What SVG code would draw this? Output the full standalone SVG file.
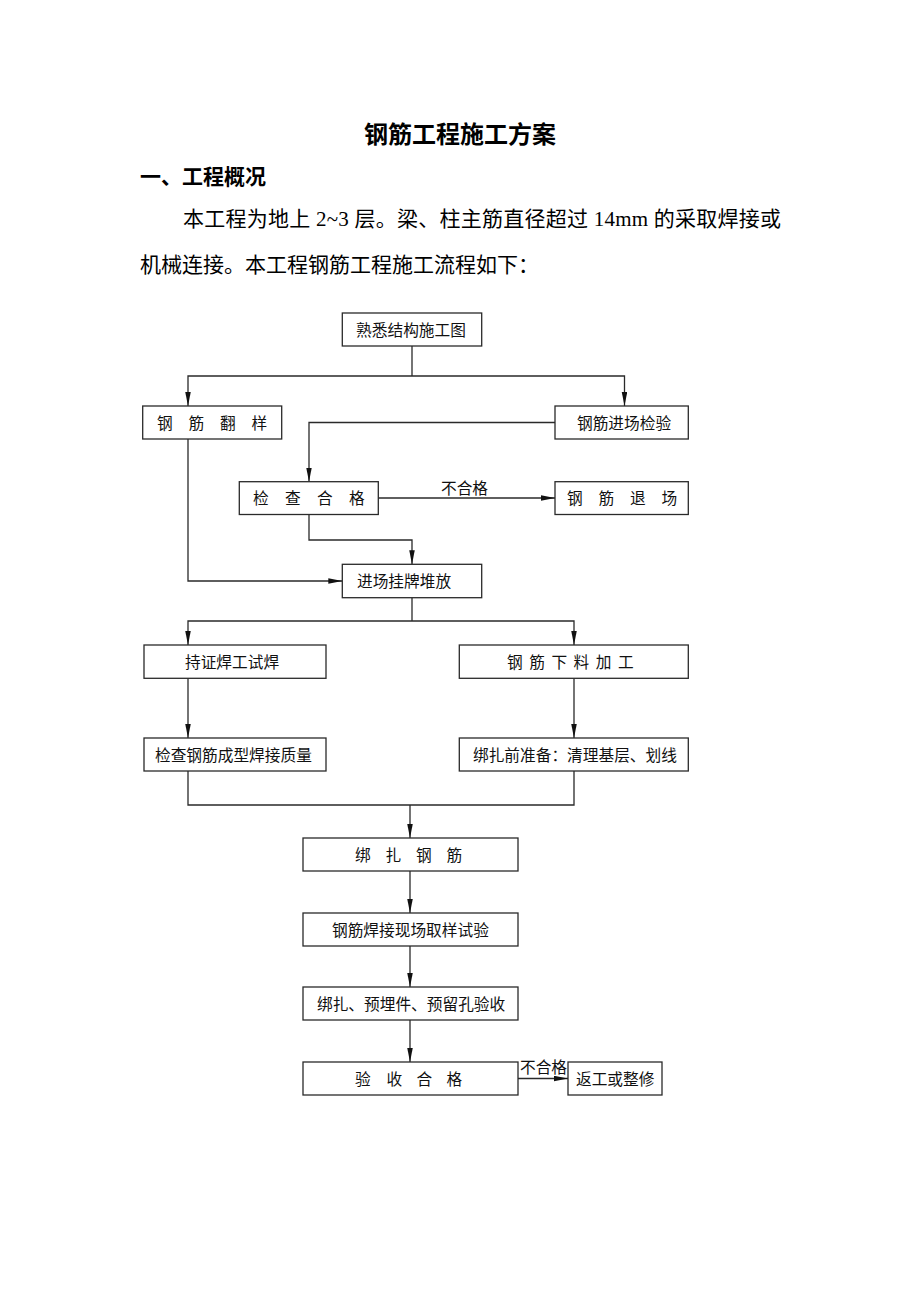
<svg xmlns="http://www.w3.org/2000/svg" width="920" height="1302" viewBox="0 0 920 1302">
<style>
.bg{fill:#ffffff}
.box{fill:#ffffff;stroke:#2a2a2a;stroke-width:1.3}
.t{font-family:"Liberation Serif","Noto Sans CJK SC",serif;font-size:15.7px;fill:#111}
.ln{fill:none;stroke:#2a2a2a;stroke-width:1.3}
.title{font-family:"Liberation Serif","Noto Sans CJK SC",serif;font-size:24px;font-weight:bold;fill:#000}
.h{font-family:"Liberation Serif","Noto Sans CJK SC",serif;font-size:21px;font-weight:bold;fill:#000}
.p{font-family:"Liberation Serif","Noto Sans CJK SC",serif;font-size:21px;fill:#000}
</style>
<defs>
<marker id="arr" markerUnits="userSpaceOnUse" markerWidth="15" markerHeight="6" refX="14" refY="2.75" orient="auto">
<path d="M0,0 L14,2.75 L0,5.5 Z" fill="#111"/>
</marker>
</defs>
<rect class="bg" x="0" y="0" width="920" height="1302"/>
<g id="header">
<text class="title" x="460" y="143" text-anchor="middle">钢筋工程施工方案</text>
<text class="h" x="140" y="184">一、工程概况</text>
<text class="p" x="183" y="225.5" textLength="598" lengthAdjust="spacing">本工程为地上 2~3 层。梁、柱主筋直径超过 14mm 的采取焊接或</text>
<text class="p" x="140" y="272">机械连接。本工程钢筋工程施工流程如下：</text>
</g>
<g id="connectors">
<polyline class="ln" points="412,346 412,376"/>
<polyline class="ln" points="412,376 188,376 188,406" marker-end="url(#arr)"/>
<polyline class="ln" points="412,376 624.5,376 624.5,406" marker-end="url(#arr)"/>
<polyline class="ln" points="555,422.5 309,422.5 309,481.7" marker-end="url(#arr)"/>
<polyline class="ln" points="378.3,498 555,498" marker-end="url(#arr)"/>
<polyline class="ln" points="309,514.5 309,540 412,540 412,564.3" marker-end="url(#arr)"/>
<polyline class="ln" points="188,439 188,581 342.3,581" marker-end="url(#arr)"/>
<polyline class="ln" points="412,597.7 412,621"/>
<polyline class="ln" points="412,621 188,621 188,645" marker-end="url(#arr)"/>
<polyline class="ln" points="412,621 574,621 574,645" marker-end="url(#arr)"/>
<polyline class="ln" points="188,678.3 188,738" marker-end="url(#arr)"/>
<polyline class="ln" points="574,678.3 574,738" marker-end="url(#arr)"/>
<polyline class="ln" points="188,771 188,805 574,805 574,771"/>
<polyline class="ln" points="410,805 410,838" marker-end="url(#arr)"/>
<polyline class="ln" points="410,871 410,913" marker-end="url(#arr)"/>
<polyline class="ln" points="410,946 410,987" marker-end="url(#arr)"/>
<polyline class="ln" points="410,1020 410,1062" marker-end="url(#arr)"/>
<polyline class="ln" points="518,1078.5 568,1078.5" marker-end="url(#arr)"/>
<text class="t" x="441" y="494">不合格</text>
<text class="t" x="520" y="1073">不合格</text>
</g>
<g id="n1">
<rect class="box" x="342.3" y="313" width="139.4" height="33"/>
<text class="t" x="411" y="335.5" text-anchor="middle">熟悉结构施工图</text>
</g>
<g id="n2">
<rect class="box" x="142.7" y="406" width="139" height="33"/>
<text class="t" x="157 188.5 220 251.5" y="428.5">钢筋翻样</text>
</g>
<g id="n3">
<rect class="box" x="555" y="406" width="133.3" height="33"/>
<text class="t" x="577" y="428.5">钢筋进场检验</text>
</g>
<g id="n4">
<rect class="box" x="239.3" y="481.7" width="139" height="32.8"/>
<text class="t" x="253 285 317 349" y="504">检查合格</text>
</g>
<g id="n5">
<rect class="box" x="555" y="481.7" width="133.3" height="32.8"/>
<text class="t" x="567 598.5 630 661.5" y="504">钢筋退场</text>
</g>
<g id="n6">
<rect class="box" x="342.3" y="564.3" width="139.4" height="33.4"/>
<text class="t" x="357" y="587">进场挂牌堆放</text>
</g>
<g id="n7">
<rect class="box" x="144" y="645" width="182" height="33.3"/>
<text class="t" x="185" y="667.7">持证焊工试焊</text>
</g>
<g id="n8">
<rect class="box" x="459.3" y="645" width="229" height="33.3"/>
<text class="t" x="507 529.2 551.4 573.6 595.8 618" y="667.7">钢筋下料加工</text>
</g>
<g id="n9">
<rect class="box" x="144" y="738" width="182" height="33"/>
<text class="t" x="155" y="760.5">检查钢筋成型焊接质量</text>
</g>
<g id="n10">
<rect class="box" x="459.3" y="738" width="229" height="33"/>
<text class="t" x="473" y="760.5">绑扎前准备：清理基层、划线</text>
</g>
<g id="n11">
<rect class="box" x="303" y="838" width="215" height="33"/>
<text class="t" x="355 385.5 416 446.5" y="860.5">绑扎钢筋</text>
</g>
<g id="n12">
<rect class="box" x="303" y="913" width="215" height="33"/>
<text class="t" x="332" y="935.5">钢筋焊接现场取样试验</text>
</g>
<g id="n13">
<rect class="box" x="303" y="987" width="215" height="33"/>
<text class="t" x="317" y="1009.5">绑扎、预埋件、预留孔验收</text>
</g>
<g id="n14">
<rect class="box" x="303" y="1062" width="215" height="33"/>
<text class="t" x="355 386.5 416.5 446.5" y="1084.5">验收合格</text>
</g>
<g id="n15">
<rect class="box" x="568" y="1062" width="94" height="33"/>
<text class="t" x="576" y="1084.5">返工或整修</text>
</g>
</svg>
